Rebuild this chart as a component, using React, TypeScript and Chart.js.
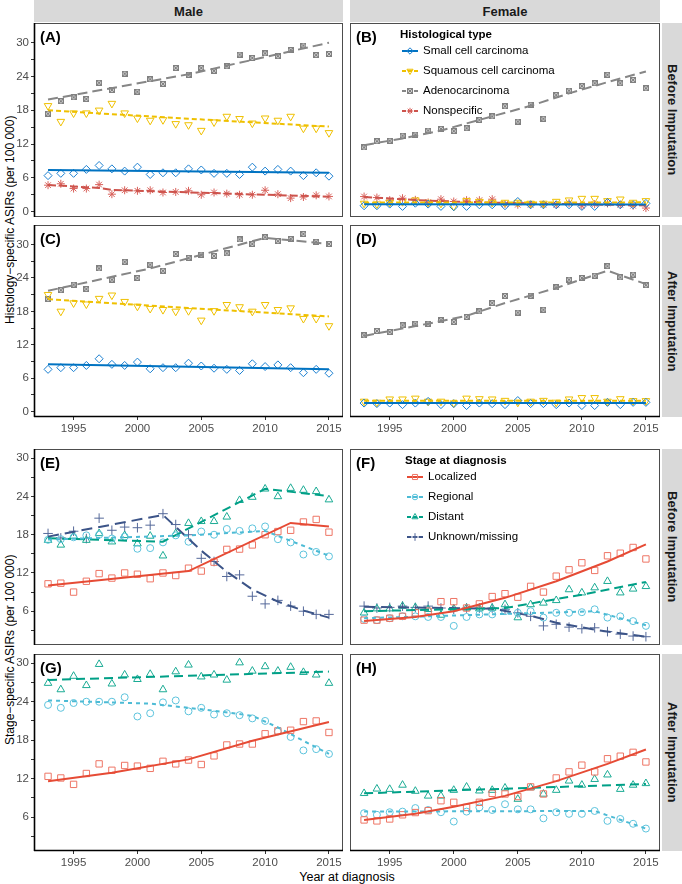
import React, { useEffect, useRef } from 'react';
import { Chart, registerables } from 'chart.js';
import { drawPoint } from 'chart.js/helpers';

Chart.register(...registerables);

const FONT = '"Liberation Sans", Arial, Helvetica, sans-serif';

// ---------- categories & ticks ----------
const YEARS = [1993, 1994, 1995, 1996, 1997, 1998, 1999, 2000, 2001, 2002, 2003, 2004, 2005, 2006, 2007, 2008, 2009, 2010, 2011, 2012, 2013, 2014, 2015];
const X_TICKS = [1995, 2000, 2005, 2010, 2015];
const Y_TICKS_TOP = [0, 3, 6, 9, 12, 15, 18, 21, 24, 27, 30];
const Y_TICKS_BOTTOM = [3, 6, 9, 12, 15, 18, 21, 24, 27, 30];

// ---------- (A) Male, histology, before imputation ----------
const A_small = [6.4, 6.8, 6.8, 7.5, 8.2, 7.6, 7.2, 7.9, 6.6, 6.9, 6.9, 7.6, 7.4, 6.8, 6.8, 6.6, 7.9, 7.2, 7.5, 7.2, 6.4, 6.9, 6.3];
const A_squam = [18.8, 16.0, 17.5, 17.5, 18.0, 19.2, 17.5, 16.6, 16.2, 16.3, 15.6, 15.4, 14.4, 15.9, 16.9, 16.5, 15.7, 16.6, 16.2, 16.9, 14.8, 14.8, 14.0];
const A_adeno = [17.4, 19.6, 20.3, 20.0, 22.9, 21.6, 24.5, 21.3, 23.5, 22.7, 25.5, 24.3, 25.5, 25.0, 25.8, 27.9, 27.3, 28.1, 27.6, 28.7, 29.5, 27.8, 28.0];
const A_nonspec = [4.7, 4.95, 4.1, 4.1, 4.8, 3.1, 3.8, 3.7, 3.8, 3.4, 3.5, 3.7, 3.0, 3.4, 3.2, 3.0, 3.0, 3.8, 3.1, 2.4, 2.6, 2.9, 2.7];
const A_small_fit = { years: [1993, 2015], values: [7.4, 6.9] };
const A_squam_fit = { years: [1993, 2004, 2015], values: [18.0, 16.5, 15.1] };
const A_adeno_fit = { years: [1993, 2004, 2015], values: [19.9, 24.4, 30.0] };
const A_nonspec_fit = { years: [1993, 1997, 1998, 2015], values: [4.75, 4.2, 3.85, 2.65] };

// ---------- (B) Female, histology, before imputation ----------
const B_small = [1.05, 1.05, 1.34, 0.93, 1.5, 1.34, 0.93, 0.87, 0.93, 1.22, 1.22, 1.05, 1.8, 1.22, 1.22, 1.22, 1.22, 0.93, 0.93, 1.63, 1.22, 1.22, 1.46];
const B_squam = [1.46, 1.34, 1.63, 1.75, 2.04, 1.63, 1.46, 0.93, 1.92, 1.8, 1.63, 1.63, 1.63, 1.46, 1.46, 1.8, 2.04, 2.33, 2.33, 1.92, 2.21, 1.63, 1.92];
const B_adeno = [11.4, 12.5, 12.6, 13.5, 13.7, 14.4, 14.7, 14.3, 14.8, 16.3, 16.9, 18.7, 16.0, 19.0, 16.5, 20.7, 21.5, 22.3, 22.8, 24.3, 22.8, 23.4, 21.9];
const B_nonspec = [2.68, 2.5, 2.04, 2.39, 2.1, 1.63, 2.21, 1.8, 2.04, 2.04, 2.21, 1.34, 1.22, 1.22, 1.22, 1.22, 1.51, 1.05, 1.34, 1.46, 1.22, 1.05, 0.64];
const B_small_fit = { years: [1993, 2015], values: [1.3, 1.25] };
const B_squam_fit = { years: [1993, 2015], values: [1.6, 1.65] };
const B_adeno_fit = { years: [1993, 1996, 1999, 2002, 2006, 2009, 2012, 2015], values: [11.8, 13.0, 14.4, 16.3, 18.8, 21.0, 23.0, 24.9] };
const B_nonspec_fit = { years: [1993, 1998, 2003, 2015], values: [2.6, 1.95, 1.6, 1.1] };

// ---------- (C) Male, histology, after imputation ----------
const C_small = [7.6, 7.9, 7.9, 8.3, 9.5, 8.5, 8.3, 8.9, 7.7, 7.9, 7.9, 8.7, 8.2, 7.8, 7.6, 7.4, 8.6, 8.1, 8.4, 7.9, 7.0, 7.6, 6.9];
const C_squam = [21.0, 18.0, 19.5, 19.3, 20.3, 20.9, 19.75, 18.9, 18.5, 18.3, 18.0, 18.1, 16.4, 18.1, 19.2, 18.8, 18.0, 19.2, 18.3, 18.6, 16.7, 16.7, 15.4];
const C_adeno = [20.2, 21.8, 22.8, 22.0, 25.7, 23.7, 26.9, 24.0, 26.4, 25.3, 28.3, 27.6, 28.2, 27.95, 28.4, 30.9, 30.1, 31.3, 30.6, 31.0, 31.9, 30.5, 30.1];
const C_small_fit = { years: [1993, 2015], values: [8.5, 7.6] };
const C_squam_fit = { years: [1993, 2004, 2015], values: [20.2, 18.6, 17.1] };
const C_adeno_fit = { years: [1993, 2001, 2010, 2015], values: [21.7, 25.7, 31.2, 30.1] };

// ---------- (D) Female, histology, after imputation ----------
const D_small = [1.55, 1.45, 1.55, 1.27, 1.55, 1.85, 1.27, 1.45, 1.1, 1.55, 1.45, 1.27, 2.0, 1.45, 1.45, 1.27, 1.55, 1.1, 1.1, 1.67, 1.27, 1.67, 1.67];
const D_squam = [1.85, 1.67, 2.25, 2.25, 2.4, 1.85, 1.85, 1.55, 2.4, 2.3, 2.25, 2.0, 1.67, 1.85, 2.0, 1.67, 2.25, 2.5, 2.5, 1.85, 2.3, 1.96, 1.96];
const D_adeno = [13.7, 14.5, 14.3, 15.5, 15.8, 15.8, 16.4, 16.1, 17.0, 18.0, 19.5, 20.75, 17.8, 20.8, 18.3, 22.3, 23.7, 24.0, 24.4, 26.1, 24.1, 24.6, 22.7];
const D_small_fit = { years: [1993, 2015], values: [1.56, 1.56] };
const D_squam_fit = { years: [1993, 2015], values: [1.96, 1.96] };
const D_adeno_fit = { years: [1993, 1998, 2001, 2004, 2008, 2012, 2015], values: [13.6, 15.8, 17.2, 19.5, 22.2, 25.3, 22.9] };

// ---------- (E) Male, stage, before imputation ----------
const E_loc = [10.3, 10.4, 9.0, 10.7, 11.9, 11.2, 12.0, 11.8, 11.1, 12.0, 11.6, 12.75, 12.3, 13.7, 15.7, 15.75, 16.4, 18.0, 18.5, 18.7, 20.0, 20.4, 18.4];
const E_reg = [17.2, 17.3, 17.6, 17.9, 18.0, 17.4, 17.7, 15.8, 15.9, 16.8, 17.9, 16.9, 18.5, 18.0, 18.9, 18.6, 19.0, 19.3, 17.3, 16.8, 14.9, 15.3, 14.6];
const E_dist = [17.15, 16.4, 17.8, 17.15, 18.2, 16.9, 17.9, 16.6, 17.8, 14.7, 18.2, 19.8, 20.1, 20.1, 20.8, 23.4, 23.9, 25.2, 24.0, 25.3, 25.0, 24.8, 23.5];
const E_unk = [18.2, 17.5, 18.55, 17.4, 20.6, 18.7, 19.2, 19.1, 19.5, 21.3, 19.6, 18.0, 14.3, 13.8, 11.45, 11.7, 8.35, 7.15, 7.7, 6.8, 6.0, 5.5, 5.5];
const E_loc_fit = { years: [1993, 2004, 2012, 2015], values: [10.05, 12.3, 19.85, 19.3] };
const E_reg_fit = { years: [1993, 2004, 2010, 2015], values: [17.25, 17.9, 18.6, 14.7] };
const E_dist_fit = { years: [1993, 2002, 2010, 2015], values: [17.45, 16.9, 25.2, 24.05] };
const E_unk_fit = { years: [1993, 2002, 2005, 2007, 2009, 2011, 2013, 2015], values: [17.7, 21.1, 15.5, 12.2, 9.4, 7.5, 6.1, 5.0] };

// ---------- (F) Female, stage, before imputation ----------
const F_loc = [4.6, 4.6, 4.9, 5.2, 5.75, 6.0, 7.5, 7.5, 6.5, 7.15, 8.3, 8.75, 8.2, 9.9, 9.0, 11.5, 12.5, 13.6, 12.4, 14.7, 15.1, 16.0, 14.2];
const F_reg = [4.8, 4.6, 4.9, 5.2, 5.2, 5.1, 5.1, 3.7, 5.1, 5.5, 5.5, 6.0, 5.75, 6.0, 5.0, 5.75, 5.75, 5.85, 6.3, 5.0, 5.2, 4.45, 3.7];
const F_dist = [5.75, 6.4, 6.4, 6.8, 6.6, 6.3, 5.4, 6.4, 6.5, 6.4, 6.5, 7.05, 5.0, 7.05, 7.3, 7.7, 9.4, 8.9, 9.7, 10.7, 8.9, 9.5, 9.9];
const F_unk = [6.8, 6.5, 6.6, 6.8, 6.6, 6.8, 6.5, 6.3, 6.5, 6.5, 6.5, 6.3, 5.75, 5.2, 3.7, 3.95, 3.5, 3.25, 3.4, 2.8, 2.4, 2.1, 2.0];
const F_loc_fit = { years: [1993, 1997, 2000, 2004, 2008, 2012, 2015], values: [4.45, 5.1, 6.0, 8.1, 10.7, 13.8, 16.5] };
const F_reg_fit = { years: [1993, 2011, 2015], values: [4.9, 6.0, 3.8] };
const F_dist_fit = { years: [1993, 2004, 2010, 2015], values: [6.0, 6.5, 8.6, 10.6] };
const F_unk_fit = { years: [1993, 2003, 2006, 2008, 2011, 2015], values: [6.7, 6.4, 5.3, 4.2, 3.1, 2.0] };

// ---------- (G) Male, stage, after imputation ----------
const G_loc = [12.35, 12.1, 11.1, 12.8, 14.3, 13.3, 14.05, 13.95, 13.6, 14.7, 14.3, 14.9, 14.2, 15.55, 17.25, 17.4, 17.4, 19.0, 19.45, 19.55, 20.9, 21.0, 19.2];
const G_reg = [23.5, 23.05, 23.8, 24.0, 24.0, 24.0, 24.7, 21.7, 22.2, 23.9, 24.2, 22.5, 23.05, 22.0, 22.2, 21.9, 21.4, 21.0, 19.35, 18.5, 16.4, 16.6, 15.85];
const G_dist = [26.9, 25.9, 28.0, 26.55, 29.85, 26.8, 28.2, 27.5, 28.3, 25.9, 28.7, 29.75, 27.9, 28.2, 27.4, 30.1, 28.8, 29.5, 28.8, 29.4, 28.6, 28.2, 26.9];
const G_loc_fit = { years: [1993, 1998, 2004, 2009, 2015], values: [11.6, 12.9, 15.0, 17.9, 20.85] };
const G_reg_fit = { years: [1993, 2001, 2006, 2009, 2011, 2013, 2015], values: [24.2, 23.7, 22.6, 21.8, 20.0, 17.9, 15.85] };
const G_dist_fit = { years: [1993, 2015], values: [27.4, 28.7] };

// ---------- (H) Female, stage, after imputation ----------
const H_loc = [5.55, 5.4, 5.7, 6.35, 6.7, 7.0, 8.55, 8.3, 7.5, 8.3, 9.7, 9.6, 9.2, 10.7, 9.6, 12.1, 13.05, 14.1, 13.05, 15.1, 15.5, 16.1, 14.6];
const H_reg = [6.6, 6.35, 6.75, 6.85, 7.4, 7.1, 6.75, 5.3, 6.85, 7.5, 7.1, 8.0, 7.2, 7.2, 5.8, 6.75, 6.5, 6.5, 6.95, 5.4, 5.7, 4.95, 4.2];
const H_dist = [9.7, 10.4, 10.35, 11.0, 10.05, 9.3, 9.3, 10.2, 10.7, 10.1, 10.2, 10.55, 8.8, 10.6, 9.6, 10.2, 11.65, 11.0, 11.9, 12.6, 10.35, 11.0, 11.25];
const H_loc_fit = { years: [1993, 1997, 2000, 2004, 2008, 2012, 2015], values: [5.55, 6.5, 7.6, 9.3, 11.6, 14.3, 16.55] };
const H_reg_fit = { years: [1993, 2011, 2015], values: [6.85, 6.95, 4.2] };
const H_dist_fit = { years: [1993, 2015], values: [9.7, 11.15] };

// ---------- styles ----------
type Style = { label: string; color: string; pointColor: string; point: string; radius: number; rotation: number; dash: number[] };
const STYLES: Record<string, Style> = {
  small: { label: 'Small cell carcinoma', color: '#0073C2', pointColor: '#1a7fd0', point: 'rectRot', radius: 4.0, rotation: 0, dash: [] },
  squam: { label: 'Squamous cell carcinoma', color: '#EFC000', pointColor: '#EFC000', point: 'triangle', radius: 4.4, rotation: 180, dash: [5, 3] },
  adeno: { label: 'Adenocarcinoma', color: '#868686', pointColor: '#868686', point: 'squareCross', radius: 4.0, rotation: 0, dash: [10, 5] },
  nonspec: { label: 'Nonspecific', color: '#CD534C', pointColor: '#d8605a', point: 'star', radius: 4.0, rotation: 0, dash: [8, 3] },
  loc: { label: 'Localized', color: '#E64B35', pointColor: '#ee7565', point: 'rect', radius: 4.5, rotation: 0, dash: [] },
  reg: { label: 'Regional', color: '#4DBBD5', pointColor: '#5cc3dc', point: 'circle', radius: 3.5, rotation: 0, dash: [4, 4] },
  dist: { label: 'Distant', color: '#00A087', pointColor: '#1aab94', point: 'triangle', radius: 4.4, rotation: 0, dash: [9, 5] },
  unk: { label: 'Unknown/missing', color: '#3C5488', pointColor: '#55699a', point: 'cross', radius: 4.8, rotation: 0, dash: [11, 6] },
};

type Fit = { years: number[]; values: number[] };
type SeriesDef = { key: string; obs: number[]; fit: Fit };
type LegendDef = { title: string; titleDx: number; keyDx: number; textDx: number };
type Panel = {
  tag: string; l: number; t: number; r: number; b: number;
  yAxis: boolean; xAxis: boolean; yMin: number; yMax: number; yTicks: number[];
  series: SeriesDef[]; legend?: LegendDef;
};

const TOP_MIN = -0.95, TOP_MAX = 33.5, BOT_MIN = 0.7, BOT_MAX = 31.45;

const PANELS: Panel[] = [
  { tag: '(A)', l: 34, t: 23, r: 343, b: 217, yAxis: true, xAxis: false, yMin: TOP_MIN, yMax: TOP_MAX, yTicks: Y_TICKS_TOP,
    series: [
      { key: 'small', obs: A_small, fit: A_small_fit },
      { key: 'squam', obs: A_squam, fit: A_squam_fit },
      { key: 'adeno', obs: A_adeno, fit: A_adeno_fit },
      { key: 'nonspec', obs: A_nonspec, fit: A_nonspec_fit },
    ] },
  { tag: '(B)', l: 350, t: 23, r: 660, b: 217, yAxis: false, xAxis: false, yMin: TOP_MIN, yMax: TOP_MAX, yTicks: Y_TICKS_TOP,
    series: [
      { key: 'small', obs: B_small, fit: B_small_fit },
      { key: 'squam', obs: B_squam, fit: B_squam_fit },
      { key: 'adeno', obs: B_adeno, fit: B_adeno_fit },
      { key: 'nonspec', obs: B_nonspec, fit: B_nonspec_fit },
    ],
    legend: { title: 'Histological type', titleDx: 50, keyDx: 52, textDx: 73 } },
  { tag: '(C)', l: 34, t: 225, r: 343, b: 417, yAxis: true, xAxis: true, yMin: TOP_MIN, yMax: TOP_MAX, yTicks: Y_TICKS_TOP,
    series: [
      { key: 'small', obs: C_small, fit: C_small_fit },
      { key: 'squam', obs: C_squam, fit: C_squam_fit },
      { key: 'adeno', obs: C_adeno, fit: C_adeno_fit },
    ] },
  { tag: '(D)', l: 350, t: 225, r: 660, b: 417, yAxis: false, xAxis: true, yMin: TOP_MIN, yMax: TOP_MAX, yTicks: Y_TICKS_TOP,
    series: [
      { key: 'small', obs: D_small, fit: D_small_fit },
      { key: 'squam', obs: D_squam, fit: D_squam_fit },
      { key: 'adeno', obs: D_adeno, fit: D_adeno_fit },
    ] },
  { tag: '(E)', l: 34, t: 449, r: 343, b: 645, yAxis: true, xAxis: false, yMin: BOT_MIN, yMax: BOT_MAX, yTicks: Y_TICKS_BOTTOM,
    series: [
      { key: 'loc', obs: E_loc, fit: E_loc_fit },
      { key: 'reg', obs: E_reg, fit: E_reg_fit },
      { key: 'dist', obs: E_dist, fit: E_dist_fit },
      { key: 'unk', obs: E_unk, fit: E_unk_fit },
    ] },
  { tag: '(F)', l: 350, t: 449, r: 660, b: 645, yAxis: false, xAxis: false, yMin: BOT_MIN, yMax: BOT_MAX, yTicks: Y_TICKS_BOTTOM,
    series: [
      { key: 'loc', obs: F_loc, fit: F_loc_fit },
      { key: 'reg', obs: F_reg, fit: F_reg_fit },
      { key: 'dist', obs: F_dist, fit: F_dist_fit },
      { key: 'unk', obs: F_unk, fit: F_unk_fit },
    ],
    legend: { title: 'Stage at diagnosis', titleDx: 55, keyDx: 57, textDx: 78 } },
  { tag: '(G)', l: 34, t: 654, r: 343, b: 851, yAxis: true, xAxis: true, yMin: BOT_MIN, yMax: BOT_MAX, yTicks: Y_TICKS_BOTTOM,
    series: [
      { key: 'loc', obs: G_loc, fit: G_loc_fit },
      { key: 'reg', obs: G_reg, fit: G_reg_fit },
      { key: 'dist', obs: G_dist, fit: G_dist_fit },
    ] },
  { tag: '(H)', l: 350, t: 654, r: 660, b: 851, yAxis: false, xAxis: true, yMin: BOT_MIN, yMax: BOT_MAX, yTicks: Y_TICKS_BOTTOM,
    series: [
      { key: 'loc', obs: H_loc, fit: H_loc_fit },
      { key: 'reg', obs: H_reg, fit: H_reg_fit },
      { key: 'dist', obs: H_dist, fit: H_dist_fit },
    ] },
];

const W = 682, H = 884, X_AXIS_H = 20, Y_AXIS_W = 34;

function makeSquareCross(): HTMLCanvasElement {
  const c = document.createElement('canvas');
  c.width = 6; c.height = 6;
  const g = c.getContext('2d')!;
  g.fillStyle = '#cfcfcf';
  g.fillRect(0, 0, 6, 6);
  g.strokeStyle = '#808080';
  g.lineWidth = 1;
  g.strokeRect(0.5, 0.5, 5, 5);
  g.beginPath();
  g.moveTo(1, 1); g.lineTo(5, 5);
  g.moveTo(5, 1); g.lineTo(1, 5);
  g.stroke();
  return c;
}

function decoPlugin(p: Panel, sq: HTMLCanvasElement) {
  return {
    id: 'deco' + p.tag.replace(/[()]/g, ''),
    afterDraw(chart: any) {
      const { ctx, chartArea: a } = chart;
      ctx.save();
      ctx.setLineDash([]);
      ctx.strokeStyle = '#4d4d4d';
      ctx.lineWidth = 1;
      ctx.strokeRect(a.left + 0.5, a.top + 0.5, a.right - a.left - 1, a.bottom - a.top - 1);
      ctx.strokeStyle = '#000';
      ctx.lineWidth = 1.6;
      if (p.yAxis) { ctx.beginPath(); ctx.moveTo(a.left + 0.5, a.top); ctx.lineTo(a.left + 0.5, a.bottom); ctx.stroke(); }
      if (p.xAxis) { ctx.beginPath(); ctx.moveTo(a.left, a.bottom - 0.5); ctx.lineTo(a.right, a.bottom - 0.5); ctx.stroke(); }
      ctx.fillStyle = '#000';
      ctx.font = 'bold 15px ' + FONT;
      ctx.textBaseline = 'middle';
      ctx.textAlign = 'left';
      ctx.fillText(p.tag, a.left + 6, a.top + 15);
      if (p.legend) {
        const lg = p.legend;
        ctx.font = 'bold 11.5px ' + FONT;
        ctx.fillText(lg.title, a.left + lg.titleDx, a.top + 11.5);
        p.series.forEach((s, i) => {
          const st = STYLES[s.key];
          const y = a.top + 28 + 20 * i;
          const x0 = a.left + lg.keyDx, x1 = x0 + 16;
          ctx.strokeStyle = st.color;
          ctx.lineWidth = 2;
          ctx.setLineDash(st.dash.length ? [4, 2] : []);
          ctx.beginPath(); ctx.moveTo(x0, y); ctx.lineTo(x1, y); ctx.stroke();
          ctx.setLineDash([]);
          ctx.strokeStyle = st.pointColor;
          ctx.fillStyle = 'rgba(0,0,0,0)';
          ctx.lineWidth = 1;
          drawPoint(ctx, { pointStyle: st.point === 'squareCross' ? sq : st.point, rotation: st.rotation, radius: st.radius * 0.8, borderWidth: 1 } as any, (x0 + x1) / 2, y);
          ctx.fillStyle = '#000';
          ctx.font = '11.5px ' + FONT;
          ctx.fillText(st.label, a.left + lg.textDx, y);
        });
      }
      ctx.restore();
    },
  };
}

function buildConfig(p: Panel, sq: HTMLCanvasElement): any {
  const datasets: any[] = [];
  p.series.forEach((s) => {
    const st = STYLES[s.key];
    datasets.push({
      label: st.label,
      data: YEARS.map((x, i) => ({ x, y: s.obs[i] })),
      showLine: false,
      pointStyle: st.point === 'squareCross' ? sq : st.point,
      pointRadius: st.radius,
      pointHoverRadius: st.radius,
      pointBorderColor: st.pointColor,
      pointBackgroundColor: 'rgba(0,0,0,0)',
      pointBorderWidth: 1,
      pointRotation: st.rotation,
      order: 2,
    });
    datasets.push({
      label: st.label + ' (trend)',
      data: s.fit.years.map((x, i) => ({ x, y: s.fit.values[i] })),
      showLine: true,
      borderColor: st.color,
      borderWidth: 2,
      borderDash: st.dash,
      borderCapStyle: 'butt',
      pointRadius: 0,
      pointHoverRadius: 0,
      fill: false,
      tension: 0,
      order: 1,
    });
  });

  const tickFont = { family: FONT, size: 11.5 };
  const grid = { display: true, drawOnChartArea: false, drawTicks: true, tickLength: 3, color: '#333333', lineWidth: 1 };

  return {
    type: 'scatter',
    data: { datasets },
    plugins: [decoPlugin(p, sq)],
    options: {
      responsive: false,
      animation: false,
      events: [],
      layout: {
        padding: {
          left: p.yAxis ? p.l - Y_AXIS_W : p.l,
          top: p.t,
          right: W - p.r,
          bottom: p.xAxis ? H - p.b - X_AXIS_H : H - p.b,
        },
      },
      plugins: { legend: { display: false }, tooltip: { enabled: false }, title: { display: false } },
      scales: {
        x: {
          type: 'linear',
          min: 1991.9,
          max: 2016.1,
          display: p.xAxis,
          afterBuildTicks: (sc: any) => { sc.ticks = X_TICKS.map((v) => ({ value: v })); },
          afterFit: (sc: any) => { sc.height = p.xAxis ? X_AXIS_H : 0; },
          border: { display: false },
          grid,
          ticks: { font: tickFont, color: '#4d4d4d', padding: 2, maxRotation: 0, autoSkip: false, callback: (v: any) => String(v) },
        },
        y: {
          type: 'linear',
          min: p.yMin,
          max: p.yMax,
          display: p.yAxis,
          afterBuildTicks: (sc: any) => { sc.ticks = p.yTicks.map((v) => ({ value: v })); },
          afterFit: (sc: any) => { sc.width = p.yAxis ? Y_AXIS_W : 0; },
          border: { display: false },
          grid,
          ticks: { font: tickFont, color: '#4d4d4d', padding: 2, autoSkip: false, callback: (v: any) => (Number(v) % 6 === 0 ? String(v) : '') },
        },
      },
    },
  };
}

const stripBase: React.CSSProperties = {
  position: 'absolute', background: '#d9d9d9', color: '#1a1a1a', fontWeight: 'bold', fontSize: 13,
  display: 'flex', alignItems: 'center', justifyContent: 'center', whiteSpace: 'nowrap', overflow: 'hidden',
};

const ROW_STRIPS = [
  { t: 23, b: 217, text: 'Before Imputation' },
  { t: 225, b: 417, text: 'After Imputation' },
  { t: 449, b: 645, text: 'Before Imputation' },
  { t: 654, b: 851, text: 'After Imputation' },
];

export default function App() {
  const refs = useRef<(HTMLCanvasElement | null)[]>([]);
  useEffect(() => {
    const sq = makeSquareCross();
    const charts = PANELS.map((p, i) => new Chart(refs.current[i] as HTMLCanvasElement, buildConfig(p, sq)));
    return () => { charts.forEach((c) => c.destroy()); };
  }, []);

  return (
    <div style={{ position: 'absolute', left: 0, top: 0, width: W, height: H, background: '#fff', fontFamily: FONT, overflow: 'hidden' }}>
      <div style={{ ...stripBase, left: 34, top: 0, width: 309, height: 22 }}>Male</div>
      <div style={{ ...stripBase, left: 350, top: 0, width: 310, height: 22 }}>Female</div>
      {ROW_STRIPS.map((s, i) => (
        <div key={i} style={{ ...stripBase, left: 662, top: s.t, width: 20, height: s.b - s.t, writingMode: 'vertical-rl' as any }}>{s.text}</div>
      ))}
      <div style={{ position: 'absolute', left: 0, top: 23, width: 20, height: 394, display: 'flex', alignItems: 'center', justifyContent: 'center', writingMode: 'vertical-rl' as any, transform: 'rotate(180deg)', fontSize: 12, color: '#000', whiteSpace: 'nowrap' }}>
        Histology−specific ASIRs (per 100 000)
      </div>
      <div style={{ position: 'absolute', left: 0, top: 449, width: 20, height: 402, display: 'flex', alignItems: 'center', justifyContent: 'center', writingMode: 'vertical-rl' as any, transform: 'rotate(180deg)', fontSize: 12, color: '#000', whiteSpace: 'nowrap' }}>
        Stage−specific ASIRs (per 100 000)
      </div>
      <div style={{ position: 'absolute', left: 34, top: 869, width: 626, height: 16, textAlign: 'center', fontSize: 12.5, lineHeight: '16px', color: '#000' }}>
        Year at diagnosis
      </div>
      {PANELS.map((p, i) => (
        <canvas key={i} ref={(el) => { refs.current[i] = el; }} width={W} height={H} style={{ position: 'absolute', left: 0, top: 0 }} />
      ))}
    </div>
  );
}
